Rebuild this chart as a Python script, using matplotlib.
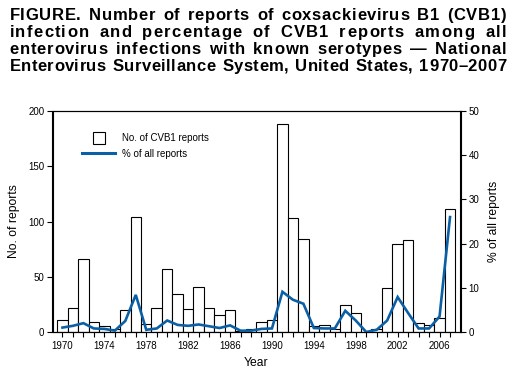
import matplotlib
matplotlib.use("Agg")
import matplotlib.pyplot as plt
from matplotlib.lines import Line2D
from matplotlib import font_manager
from matplotlib.ft2font import FT2Font

years = list(range(1970, 2008))
cvb1_reports = [11, 22, 66, 9, 5, 3, 20, 104, 7, 22,
                57, 34, 21, 41, 22, 15, 20, 1, 3, 9,
                11, 188, 103, 84, 5, 6, 3, 24, 17, 0,
                3, 40, 80, 83, 8, 6, 13, 111]
pct_all = [1.0, 1.4, 2.0, 0.8, 0.7, 0.3, 2.5, 8.4, 0.5, 0.8,
           2.6, 1.6, 1.4, 1.7, 1.3, 0.9, 1.5, 0.3, 0.3, 0.7,
           0.8, 9.1, 7.3, 6.4, 0.9, 0.8, 0.8, 4.8, 2.6, 0.0,
           0.5, 2.6, 7.9, 4.3, 0.8, 0.8, 3.5, 26.0]
xtick_labels = [str(y) for y in range(1970, 2007, 4)]
left_ticks = [0, 50, 100, 150, 200]
right_ticks = [0, 10, 20, 30, 40, 50]
title_lines = ["FIGURE. Number of reports of coxsackievirus B1 (CVB1)",
               "infection and percentage of CVB1 reports among all",
               "enterovirus infections with known serotypes \u2014 National",
               "Enterovirus Surveillance System, United States, 1970\u20132007"]

W, H = 510, 374
BLUE = "#0b5fa5"
plt.rcParams['font.family'] = ['Liberation Sans', 'DejaVu Sans']

fig = plt.figure(figsize=(W / 100, H / 100), dpi=100)
ax = fig.add_axes([52.5 / W, 1 - 332 / H, (460.5 - 52.5) / W, (332 - 111) / H])
ax2 = ax.twinx()

ax.bar(years, cvb1_reports, width=1.0, facecolor="white", edgecolor="black",
       linewidth=0.8, zorder=2)
ax2.plot(years, pct_all, color=BLUE, linewidth=1.9, solid_joinstyle="miter",
         zorder=3)

ax.set_xlim(1969.05, 2008.0)
ax.set_ylim(0, 200)
ax2.set_ylim(0, 50)
ax.set_yticks(left_ticks)
ax2.set_yticks(right_ticks)
ax.set_xticks(years)
ax.set_xticklabels([str(y) if str(y) in xtick_labels else "" for y in years])

for a in (ax, ax2):
    for s in a.spines.values():
        s.set_linewidth(0.8)
    a.tick_params(direction="out", length=3.8, width=0.8, labelsize=7,
                  pad=2, colors="black")
ax.tick_params(axis="x", pad=3)

ax.set_zorder(ax2.get_zorder() - 1)
ax2.patch.set_visible(False)

ax.set_xlabel("Year", fontsize=8.7, labelpad=4)
ax.set_ylabel("No. of reports", fontsize=8.7, labelpad=6)
ax2.set_ylabel("% of all reports", fontsize=8.7, labelpad=6)

handles = [Line2D([], [], marker="s", markersize=8.6, markerfacecolor="white",
                  markeredgecolor="black", markeredgewidth=0.8, linestyle="none"),
           Line2D([], [], color=BLUE, linewidth=2.2)]
ax.legend(handles, ["No. of CVB1 reports", "% of all reports"],
          loc="upper left", bbox_to_anchor=(30 / 408, 1 - 22 / 221),
          frameon=False, fontsize=7, handlelength=3.3, handletextpad=0.8,
          labelspacing=0.6, borderaxespad=0, borderpad=0)

# Title, justified across the width like the reference
TITLE_PT = 12
fp = font_manager.FontProperties(family="Liberation Sans", weight="bold")
ft = FT2Font(font_manager.findfont(fp))
ft.set_size(TITLE_PT, 100)


def adv(c):
    g = ft.load_char(ord(c))
    return g.linearHoriAdvance / 65536


x0, x1 = 9.5, 506.0
baselines = [20, 37.3, 54.3, 71.3]
for line, base in zip(title_lines, baselines):
    advs = [adv(c) for c in line]
    natural = sum(advs)
    weights = [4.0 if c == " " else 1.0 for c in line[:-1]]
    extra = (x1 - x0) - natural
    tw = sum(weights)
    x = x0
    for i, c in enumerate(line):
        if c != " ":
            fig.text(x / W, 1 - base / H, c, fontsize=TITLE_PT,
                     fontproperties=fp, va="baseline", ha="left", color="black")
        x += advs[i]
        if i < len(line) - 1:
            x += extra * weights[i] / tw

fig.savefig("out.png", dpi=100)
